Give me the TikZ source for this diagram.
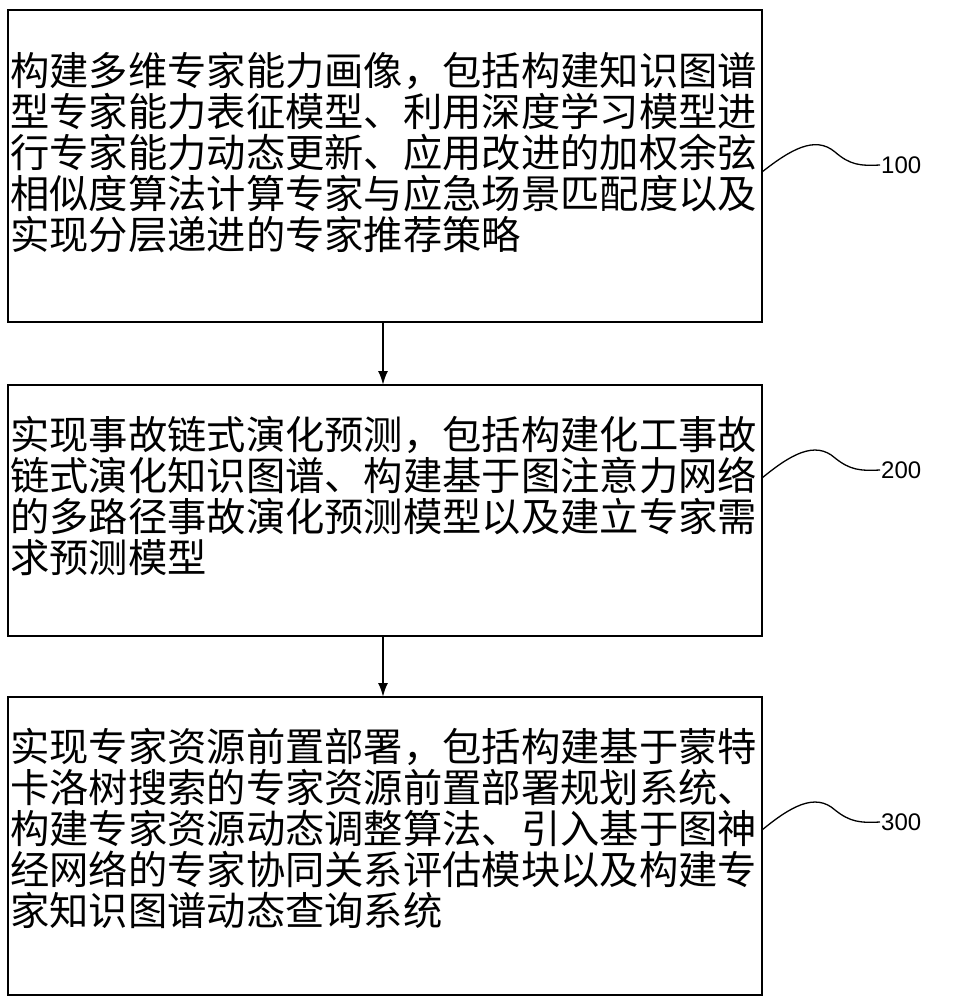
\documentclass[tikz,border=0pt]{standalone}
\usepackage{fontspec}
\newfontfamily\cjk{Noto Sans CJK SC}
\setmainfont{Liberation Sans}
\usetikzlibrary{arrows.meta}
\begin{document}
\begin{tikzpicture}[x=1pt,y=-1pt,
            stepbox/.style={draw, line width=2pt, inner sep=0pt},
            steptext/.style={anchor=north west, align=left, inner sep=0pt,
                font=\cjk\fontsize{39.3}{41}\selectfont},
            tag/.style={font=\fontsize{24}{28}\selectfont, anchor=west, inner sep=1pt},
            flow/.style={-{Latex[length=14pt,width=10pt]}, line width=2pt}
        ]
        \useasboundingbox (0,0) rectangle (958,1000);

        % Boxes
        \draw[stepbox] (8,10) rectangle (762,322);
        \draw[stepbox] (8,385) rectangle (762,636);
        \draw[stepbox] (8,697) rectangle (762,995);
        \coordinate (b1s) at (383,322);
        \coordinate (b2n) at (383,385);
        \coordinate (b2s) at (383,636);
        \coordinate (b3n) at (383,697);

        % Texts
        \node[steptext] (t1) at (10,52) {构建多维专家能力画像，包括构建知识图谱\\型专家能力表征模型、利用深度学习模型进\\行专家能力动态更新、应用改进的加权余弦\\相似度算法计算专家与应急场景匹配度以及\\实现分层递进的专家推荐策略};
        \node[steptext] (t2) at (10,416) {实现事故链式演化预测，包括构建化工事故\\链式演化知识图谱、构建基于图注意力网络\\的多路径事故演化预测模型以及建立专家需\\求预测模型};
        \node[steptext] (t3) at (10,728) {实现专家资源前置部署，包括构建基于蒙特\\卡洛树搜索的专家资源前置部署规划系统、\\构建专家资源动态调整算法、引入基于图神\\经网络的专家协同关系评估模块以及构建专\\家知识图谱动态查询系统};

        % Arrows
        \draw[flow] (b1s) -- (b2n);
        \draw[flow] (b2s) -- (b3n);

        % Labels
        \node[tag] (l1) at (880,165) {100};
        \node[tag] (l2) at (880,470) {200};
        \node[tag] (l3) at (880,822) {300};
        \draw[line width=1.3pt] (762,172) .. controls (790,150) and (815,135) .. (835,152) .. controls (850,165) and (860,166) .. (l1.west);
        \draw[line width=1.3pt] (762,478) .. controls (790,455) and (815,440) .. (835,458) .. controls (850,470) and (860,471) .. (l2.west);
        \draw[line width=1.3pt] (762,830) .. controls (790,807) and (815,792) .. (835,810) .. controls (850,822) and (860,823) .. (l3.west);
    \end{tikzpicture}
\end{document}
